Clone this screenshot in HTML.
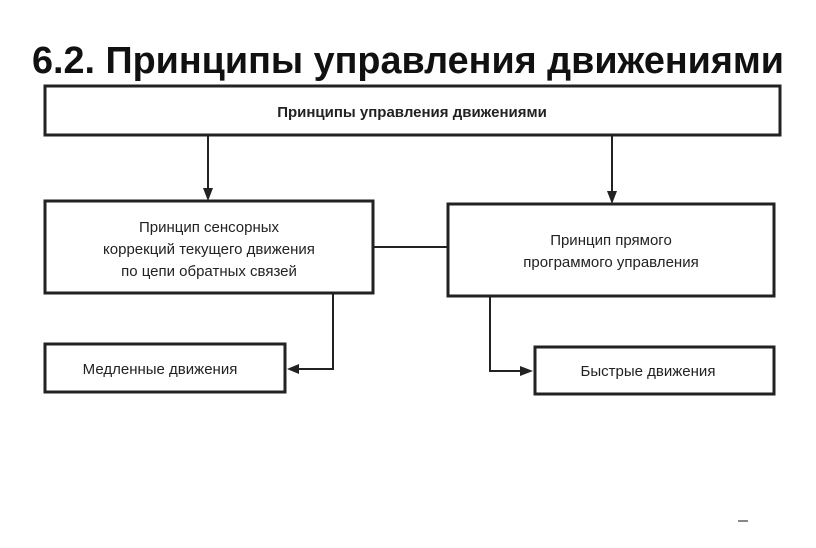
<!DOCTYPE html>
<html><head><meta charset="utf-8"><style>
body{margin:0;width:816px;height:543px;background:#fff;overflow:hidden;font-family:"Liberation Sans","Noto Sans CJK SC",sans-serif;}
</style></head><body>
<svg width="816" height="543" xmlns="http://www.w3.org/2000/svg" font-family="Liberation Sans, sans-serif">
<text x="408" y="73" text-anchor="middle" font-size="38" font-weight="bold" fill="#111" textLength="752" lengthAdjust="spacingAndGlyphs">6.2. Принципы управления движениями</text>
<g fill="none" stroke="#222" stroke-width="3">
<rect x="45" y="86" width="735" height="49"/>
<rect x="45" y="201" width="328" height="92"/>
<rect x="448" y="204" width="326" height="92"/>
<rect x="45" y="344" width="240" height="48"/>
<rect x="535" y="347" width="239" height="47"/>
</g>
<g fill="none" stroke="#222" stroke-width="2">
<line x1="208" y1="135" x2="208" y2="190"/>
<line x1="612" y1="135" x2="612" y2="193"/>
<line x1="373" y1="247" x2="448" y2="247"/>
<polyline points="333,293 333,369 297,369"/>
<polyline points="490,296 490,371 522,371"/>
</g>
<g fill="#222">
<polygon points="203,188 213,188 208,201"/>
<polygon points="607,191 617,191 612,204"/>
<polygon points="299,364 299,374 287,369"/>
<polygon points="520,366 520,376 533,371"/>
</g>
<g font-size="15" fill="#222" text-anchor="middle">
<text x="412" y="117" font-weight="bold">Принципы управления движениями</text>
<text x="209" y="232">Принцип сенсорных</text>
<text x="209" y="254">коррекций текущего движения</text>
<text x="209" y="276">по цепи обратных связей</text>
<text x="611" y="245">Принцип прямого</text>
<text x="611" y="267">программого управления</text>
<text x="160" y="374">Медленные движения</text>
<text x="648" y="376">Быстрые движения</text>
</g>
<line x1="738" y1="521" x2="748" y2="521" stroke="#888" stroke-width="2"/>
</svg>
</body></html>
